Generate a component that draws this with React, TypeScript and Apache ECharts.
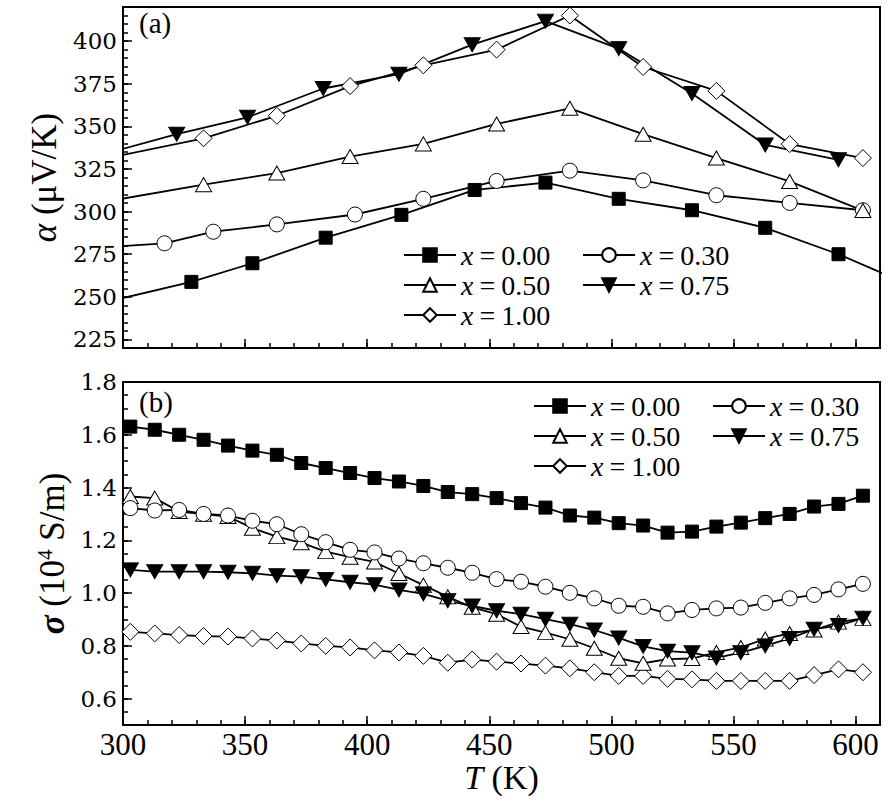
import React, { useEffect, useRef } from 'react';
import * as echarts from 'echarts';

const NAMES = ['x = 0.00', 'x = 0.30', 'x = 0.50', 'x = 0.75', 'x = 1.00'];

// Panel (a): Seebeck coefficient alpha (µV/K) vs T (K)
const tA000 = [297, 328, 353, 383, 414, 444, 473, 503, 533, 563, 593, 623];
const a000 = [248.3, 258.8, 269.7, 284.7, 298.1, 312.7, 317.0, 307.5, 300.8, 290.5, 275.0, 256.5];
const tA030 = [297, 317, 337, 363, 395, 423, 453, 483, 513, 543, 573, 603];
const a030 = [279.5, 281.4, 288.2, 292.5, 298.3, 307.5, 318.0, 324.0, 318.3, 309.6, 305.1, 300.8];
const tA050 = [297, 333, 363, 393, 423, 453, 483, 513, 543, 573, 603];
const a050 = [306.9, 315.8, 322.6, 332.3, 339.7, 351.4, 360.6, 345.4, 331.4, 317.7, 300.6];
const tA075 = [297, 322, 351, 382, 413, 443, 473, 503, 533, 563, 593];
const a075 = [335.6, 345.4, 355.3, 372.2, 380.6, 397.9, 411.7, 395.6, 369.3, 339.1, 330.4];
const tA100 = [297, 333, 363, 393, 423, 453, 483, 513, 543, 573, 603];
const a100 = [332.4, 343.0, 356.2, 373.6, 385.8, 395.0, 415.0, 384.8, 370.8, 339.6, 331.4];

// Panel (b): electrical conductivity sigma (10^4 S/m) vs T (K)
const tS = [303, 313, 323, 333, 343, 353, 363, 373, 383, 393, 403, 413, 423, 433, 443, 453,
  463, 473, 483, 493, 503, 513, 523, 533, 543, 553, 563, 573, 583, 593, 603];
const s000 = [1.631, 1.619, 1.600, 1.581, 1.559, 1.540, 1.524, 1.493, 1.474, 1.455, 1.436, 1.423,
  1.406, 1.383, 1.375, 1.360, 1.341, 1.324, 1.294, 1.286, 1.265, 1.256, 1.229, 1.233, 1.252,
  1.267, 1.284, 1.300, 1.328, 1.338, 1.369];
const s030 = [1.322, 1.313, 1.315, 1.300, 1.294, 1.274, 1.261, 1.223, 1.193, 1.164, 1.154, 1.131,
  1.113, 1.096, 1.077, 1.053, 1.043, 1.024, 1.001, 0.980, 0.952, 0.948, 0.923, 0.936, 0.942,
  0.945, 0.963, 0.980, 0.993, 1.014, 1.035];
const s050 = [1.366, 1.360, 1.309, 1.299, 1.290, 1.246, 1.214, 1.191, 1.157, 1.136, 1.118, 1.074,
  1.030, 0.986, 0.946, 0.920, 0.873, 0.850, 0.825, 0.791, 0.753, 0.734, 0.750, 0.752, 0.775,
  0.794, 0.826, 0.847, 0.860, 0.890, 0.904];
const s075 = [1.088, 1.081, 1.081, 1.081, 1.079, 1.075, 1.066, 1.062, 1.052, 1.041, 1.032, 1.012,
  0.997, 0.971, 0.951, 0.933, 0.920, 0.901, 0.882, 0.860, 0.830, 0.798, 0.780, 0.774, 0.754,
  0.774, 0.800, 0.828, 0.863, 0.877, 0.905];
const s100 = [0.853, 0.847, 0.841, 0.837, 0.835, 0.828, 0.820, 0.809, 0.800, 0.794, 0.783, 0.775,
  0.762, 0.736, 0.748, 0.740, 0.733, 0.725, 0.715, 0.700, 0.686, 0.686, 0.675, 0.673, 0.667,
  0.667, 0.667, 0.667, 0.689, 0.711, 0.700];

// Axis ticks
const xMajor = [300, 350, 400, 450, 500, 550, 600];
const xMinor = [300, 310, 320, 330, 340, 350, 360, 370, 380, 390, 400, 410, 420, 430, 440, 450,
  460, 470, 480, 490, 500, 510, 520, 530, 540, 550, 560, 570, 580, 590, 600];
const aMajor = [225, 250, 275, 300, 325, 350, 375, 400];
const aMinor = [220, 225, 230, 235, 240, 245, 250, 255, 260, 265, 270, 275, 280, 285, 290, 295,
  300, 305, 310, 315, 320, 325, 330, 335, 340, 345, 350, 355, 360, 365, 370, 375, 380, 385, 390,
  395, 400, 405, 410, 415, 420];
const sMajor = [0.6, 0.8, 1.0, 1.2, 1.4, 1.6, 1.8];
const sMinor = [0.5, 0.55, 0.6, 0.65, 0.7, 0.75, 0.8, 0.85, 0.9, 0.95, 1.0, 1.05, 1.1, 1.15, 1.2,
  1.25, 1.3, 1.35, 1.4, 1.45, 1.5, 1.55, 1.6, 1.65, 1.7, 1.75, 1.8];

const SERIF = 'Liberation Serif';
const WIDE_SERIF = 'DejaVu Serif';

const markers: Record<string, any> = {
  'x = 0.00': { symbol: 'rect', symbolSize: 13, fill: '#000', rotate: 0 },
  'x = 0.30': { symbol: 'circle', symbolSize: 15, fill: '#fff', rotate: 0 },
  'x = 0.50': { symbol: 'triangle', symbolSize: [16, 14], fill: '#fff', rotate: 0 },
  'x = 0.75': { symbol: 'triangle', symbolSize: [16, 14], fill: '#000', rotate: 180 },
  'x = 1.00': { symbol: 'diamond', symbolSize: 17, fill: '#fff', rotate: 0 },
};

function zip(xs: number[], ys: number[]) {
  return xs.map((x, i) => [x, ys[i]]);
}

function mkSeries(name: string, data: number[][], panel: number) {
  const m = markers[name];
  return {
    type: 'line',
    name,
    xAxisIndex: panel * 2,
    yAxisIndex: panel * 2,
    data,
    clip: true,
    symbol: m.symbol,
    symbolSize: m.symbolSize,
    symbolRotate: m.rotate,
    showAllSymbol: true,
    lineStyle: { color: '#000', width: 1.8 },
    itemStyle: { color: m.fill, borderColor: '#000', borderWidth: 1 },
    emphasis: { disabled: true },
  };
}

const legendRich = {
  i: { fontFamily: SERIF, fontStyle: 'italic', fontSize: 28, color: '#000' },
  e: { fontFamily: SERIF, fontSize: 28, color: '#000', padding: [0, 6, 0, 6] },
};

function mkLegend(data: string[], left: number, top: number) {
  return {
    data,
    orient: 'vertical',
    left,
    top,
    padding: 0,
    itemWidth: 52,
    itemHeight: 17,
    itemGap: 2,
    selectedMode: false,
    textStyle: { fontFamily: SERIF, fontSize: 28, color: '#000', lineHeight: 28, rich: legendRich },
    formatter: (n: string) => `{i|x}{e|=}${n.slice(4)}`,
  };
}

function xAxes(grid: number, labels: boolean) {
  return [
    {
      type: 'value', gridIndex: grid, min: 300, max: 610, position: 'bottom',
      axisLine: { show: false },
      axisTick: { show: true, inside: true, length: 9, customValues: xMajor, lineStyle: { color: '#000', width: 1.5 } },
      axisLabel: {
        show: labels, customValues: xMajor, margin: 4, fontFamily: SERIF, fontSize: 31, color: '#000',
      },
      splitLine: { show: false },
      name: labels ? '{i|T} (K)' : '',
      nameLocation: 'middle',
      nameGap: 32,
      nameTextStyle: {
        fontFamily: SERIF, fontSize: 34, color: '#000',
        rich: { i: { fontFamily: SERIF, fontStyle: 'italic', fontSize: 34, color: '#000' } },
      },
    },
    {
      type: 'value', gridIndex: grid, min: 300, max: 610, position: 'bottom',
      axisLine: { show: false },
      axisTick: { show: true, inside: true, length: 5, customValues: xMinor, lineStyle: { color: '#000', width: 1.5 } },
      axisLabel: { show: false },
      splitLine: { show: false },
    },
  ];
}

function yAxes(grid: number, min: number, max: number, major: number[], minor: number[],
  fmt: (v: number) => string, name: string, rich: any) {
  return [
    {
      type: 'value', gridIndex: grid, min, max, position: 'left',
      axisLine: { show: false },
      axisTick: { show: true, inside: true, length: 9, customValues: major, lineStyle: { color: '#000', width: 1.5 } },
      axisLabel: {
        show: true, customValues: major, formatter: fmt, margin: 6,
        fontFamily: WIDE_SERIF, fontSize: 23, color: '#000',
      },
      splitLine: { show: false },
      name,
      nameLocation: 'middle',
      nameGap: 44,
      nameRotate: 90,
      nameTextStyle: { fontFamily: SERIF, fontSize: 35, color: '#000', rich },
    },
    {
      type: 'value', gridIndex: grid, min, max, position: 'left',
      axisLine: { show: false },
      axisTick: { show: true, inside: true, length: 5, customValues: minor, lineStyle: { color: '#000', width: 1.5 } },
      axisLabel: { show: false },
      splitLine: { show: false },
    },
  ];
}

export default function App() {
  const ref = useRef<HTMLDivElement>(null);
  useEffect(() => {
    if (!ref.current) return;
    const chart = echarts.init(ref.current, null, { renderer: 'svg' });
    const nameBase = { fontFamily: SERIF, fontSize: 35, color: '#000' };
    const option: any = {
      animation: false,
      backgroundColor: '#fff',
      title: [
        { text: '(a)', left: 139, top: 8, padding: 0, textStyle: { fontFamily: SERIF, fontSize: 29, fontWeight: 'normal', color: '#000' } },
        { text: '(b)', left: 139, top: 387, padding: 0, textStyle: { fontFamily: SERIF, fontSize: 29, fontWeight: 'normal', color: '#000' } },
      ],
      grid: [
        { left: 123, right: 8, top: 7, height: 341, show: true, borderColor: '#000', borderWidth: 2, backgroundColor: 'transparent' },
        { left: 123, right: 8, top: 382, height: 343, show: true, borderColor: '#000', borderWidth: 2, backgroundColor: 'transparent' },
      ],
      legend: [
        mkLegend(['x = 0.00', 'x = 0.50', 'x = 1.00'], 403, 241),
        mkLegend(['x = 0.30', 'x = 0.75'], 582, 241),
        mkLegend(['x = 0.00', 'x = 0.50', 'x = 1.00'], 533, 392),
        mkLegend(['x = 0.30', 'x = 0.75'], 712, 392),
      ],
      xAxis: [...xAxes(0, false), ...xAxes(1, true)],
      yAxis: [
        ...yAxes(0, 220, 420, aMajor, aMinor, (v: number) => String(Math.round(v)), '{i|α} (μV/K)',
          { i: { ...nameBase, fontStyle: 'italic' } }),
        ...yAxes(1, 0.5, 1.8, sMajor, sMinor, (v: number) => v.toFixed(1), '{b|σ} (10{s|4} S/m)',
          {
            b: { ...nameBase, fontStyle: 'italic', fontWeight: 'bold' },
            s: { fontFamily: SERIF, fontSize: 21, color: '#000', verticalAlign: 'top' },
          }),
      ],
      series: [
        mkSeries(NAMES[0], zip(tA000, a000), 0),
        mkSeries(NAMES[1], zip(tA030, a030), 0),
        mkSeries(NAMES[2], zip(tA050, a050), 0),
        mkSeries(NAMES[3], zip(tA075, a075), 0),
        mkSeries(NAMES[4], zip(tA100, a100), 0),
        mkSeries(NAMES[4], zip(tS, s100), 1),
        mkSeries(NAMES[2], zip(tS, s050), 1),
        mkSeries(NAMES[1], zip(tS, s030), 1),
        mkSeries(NAMES[3], zip(tS, s075), 1),
        mkSeries(NAMES[0], zip(tS, s000), 1),
      ],
    };
    chart.setOption(option);
    return () => chart.dispose();
  }, []);
  return <div ref={ref} style={{ position: 'absolute', left: 0, top: 0, width: 888, height: 809 }} />;
}
